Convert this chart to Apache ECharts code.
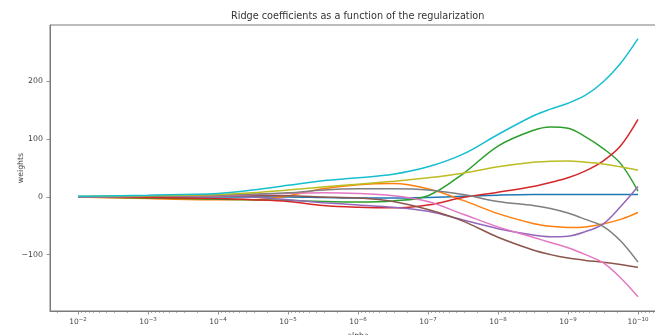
<!DOCTYPE html>
<html>
<head>
<meta charset="utf-8">
<script src="https://cdn.jsdelivr.net/npm/echarts@6/dist/echarts.min.js"></script>
<style>
  html, body { margin: 0; padding: 0; background: #fff; }
  #chart { width: 655px; height: 335px; }
</style>
</head>
<body>
<div id="chart"></div>
<script>
// Regularization strengths (alpha), from strong to weak
const alphas = [1e-2, 1e-3, 1e-4, 3.16e-5, 1e-5, 3.16e-6, 1e-6, 3.16e-7, 1e-7,
                3.16e-8, 1e-8, 3.16e-9, 1.78e-9, 1e-9, 5.62e-10, 3.16e-10, 1.78e-10, 1e-10];

// Ridge coefficient paths, one array per feature weight
const w0 = [0, 0, 0, 0, 0, -1, -2, -2, -1, 1, 3, 4, 4, 4, 4, 4, 4, 4];
const w1 = [0, -3, -5, -5, 2, 14, 21, 23, 14, -6, -29, -46, -51, -53, -52, -47, -39, -27];
const w2 = [0, -2, -4, -5, -6, -8, -9, -7, 2, 40, 88, 115, 121, 119, 104, 84, 58, 10];
const w3 = [0, -1, -3, -5, -8, -15, -18, -19, -14, -1, 8, 18, 25, 33, 45, 62, 88, 134];
const w4 = [0, 1, 2, 0, -5, -10, -14, -18, -25, -40, -55, -66, -69, -68, -60, -47, -17, 18];
const w5 = [0, 1, 2, 2, 2, 0, -2, -8, -22, -42, -70, -92, -100, -106, -110, -113, -117, -122];
const w6 = [0, 1, 2, 4, 6, 7, 6, 2, -8, -30, -52, -70, -79, -88, -100, -114, -140, -173];
const w7 = [0, 1, 3, 5, 7, 12, 14, 14, 12, 4, -8, -15, -20, -28, -39, -51, -76, -113];
const w8 = [1, 2, 4, 7, 12, 17, 22, 27, 33, 41, 52, 60, 61.5, 62, 60, 57, 52, 46];
const w9 = [1, 3, 6, 12, 20, 28, 33, 39, 52, 74, 108, 140, 152, 162, 176, 199, 231, 274];
const weights = [w0, w1, w2, w3, w4, w5, w6, w7, w8, w9];

// Axis ticks
const xMajorTicks = [1e-2, 1e-3, 1e-4, 1e-5, 1e-6, 1e-7, 1e-8, 1e-9, 1e-10];
const yTicks = [-100, 0, 100, 200];

const palette = ['#1f77b4', '#ff7f0e', '#2ca02c', '#d62728', '#9467bd',
                 '#8c564b', '#e377c2', '#7f7f7f', '#bcbd22', '#17becf'];

// log-scale minor ticks (2..9 within each decade)
const xMinorTicks = [];
for (let e = -11; e <= -2; e++) {
  for (let m = 2; m <= 9; m++) xMinorTicks.push(m * Math.pow(10, e));
}

const FONT = 'DejaVu Sans';
const labelColor = '#444';
const frameColor = '#7a7a7a';

const chart = echarts.init(document.getElementById('chart'), null, { renderer: 'canvas' });

const xCommon = {
  type: 'log',
  inverse: true,
  min: 3.98e-11,
  max: 0.0251,
  gridIndex: 0,
  position: 'bottom',
  splitLine: { show: false },
  minorSplitLine: { show: false }
};

chart.setOption({
  animation: false,
  backgroundColor: '#fff',
  title: {
    text: 'Ridge coefficients as a function of the regularization',
    left: 231,
    top: 11,
    padding: 0,
    textStyle: { fontFamily: FONT, fontSize: 9.7, fontWeight: 'normal', color: '#333' }
  },
  grid: {
    left: 50, top: 25, width: 616, bottom: 24,
    show: true, borderColor: frameColor, borderWidth: 1,
    backgroundColor: 'transparent', containLabel: false,
    outerBoundsMode: 'none'
  },
  xAxis: [
    Object.assign({}, xCommon, {
      name: 'alpha',
      nameLocation: 'middle',
      nameGap: 21,
      nameMoveOverlap: false,
      nameTextStyle: { fontFamily: FONT, fontSize: 7.8, color: labelColor },
      axisLine: { show: true, onZero: false, lineStyle: { color: frameColor, width: 1 } },
      axisTick: { show: true, customValues: xMajorTicks, length: 3.5, inside: false,
                  lineStyle: { color: frameColor, width: 0.8 } },
      axisLabel: {
        show: true,
        customValues: xMajorTicks,
        margin: 6,
        formatter: function (v) {
          const e = Math.round(Math.log10(v));
          return '{b|10}{s|' + (e < 0 ? '\u2212' + (-e) : e) + '}';
        },
        rich: {
          b: { fontFamily: FONT, fontSize: 7.5, color: labelColor },
          s: { fontFamily: FONT, fontSize: 5.5, color: labelColor, verticalAlign: 'top', padding: [0, 0, 4, 0] }
        }
      }
    }),
    Object.assign({}, xCommon, {
      axisLine: { show: false, onZero: false },
      axisLabel: { show: false },
      axisTick: { show: true, customValues: xMinorTicks, length: 2, inside: false,
                  lineStyle: { color: frameColor, width: 0.6 } }
    })
  ],
  yAxis: {
    type: 'value',
    min: -197.6,
    max: 297.6,
    name: 'weights',
    nameLocation: 'middle',
    nameGap: 25,
    nameMoveOverlap: false,
    nameRotate: 90,
    nameTextStyle: { fontFamily: FONT, fontSize: 7.8, color: labelColor },
    splitLine: { show: false },
    axisLine: { show: true, onZero: false, lineStyle: { color: frameColor, width: 1 } },
    axisTick: { show: true, customValues: yTicks, length: 3.5, inside: false,
                lineStyle: { color: frameColor, width: 0.8 } },
    axisLabel: {
      customValues: yTicks,
      margin: 7,
      fontFamily: FONT, fontSize: 7.8, color: labelColor,
      formatter: function (v) { return v < 0 ? '\u2212' + (-v) : String(v); }
    }
  },
  series: weights.map(function (vals, k) {
    return {
      type: 'line',
      xAxisIndex: 0,
      data: alphas.map(function (a, i) { return [a, vals[i]]; }),
      showSymbol: false,
      smooth: 0.35,
      clip: true,
      color: palette[k],
      lineStyle: { width: 1.5, color: palette[k] },
      emphasis: { disabled: true }
    };
  })
});
</script>
</body>
</html>
